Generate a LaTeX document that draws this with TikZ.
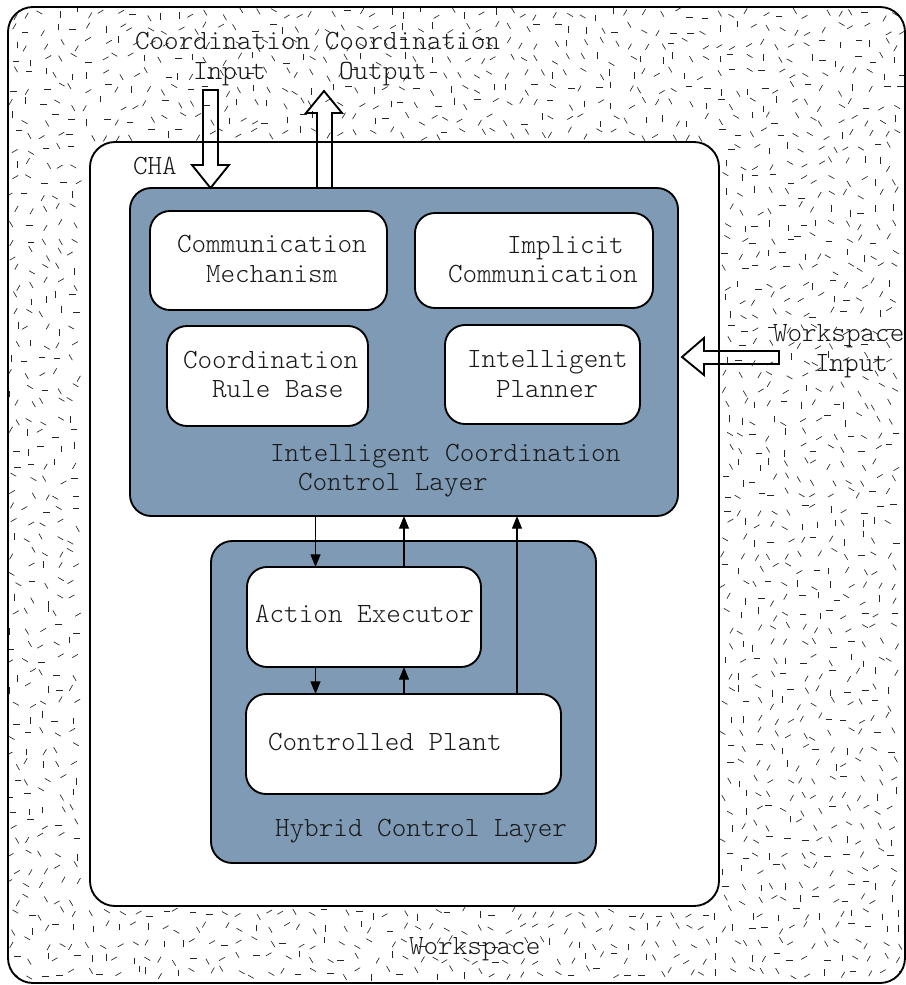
\documentclass[tikz,border=0pt]{standalone}
\usepackage{fontspec}
\setmonofont{Latin Modern Mono Light}
\usetikzlibrary{arrows.meta,fit}
\definecolor{layerblue}{RGB}{126,154,180}

% one short random stroke of the workspace texture, near grid point (\gx,\gy)
\newcommand\dropspeck{%
  \pgfmathsetmacro\sx{\gx+5*rand}%
  \pgfmathsetmacro\sy{\gy+5*rand}%
  \pgfmathsetmacro\sa{30*random(0,5)}%
  \draw[speck] (\sx,\sy) ++(\sa:3.3) -- ++(\sa+180:6.6);}

\begin{document}
\begin{tikzpicture}[x=0.75pt,y=-0.75pt,
  every node/.style={font=\ttfamily\fontsize{20.86}{24}\selectfont},
  frame/.style={draw=black, line width=1.4pt, inner sep=0pt, outer sep=0pt},
  whitebox/.style={frame, fill=white, rounded corners=15pt},
  layer/.style={frame, fill=layerblue, rounded corners=16pt},
  lbl/.style={inner sep=0pt, outer sep=0pt, anchor=west, text height=0.75em, text depth=0.15em, text=black!90},
  speck/.style={line width=0.5pt, black!85},
  conn/.style={line width=0.9pt, -{Triangle[length=9.5pt,width=7.5pt]}},
  hollow/.style={line width=1.4pt, line join=miter}]
\useasboundingbox (0,0) rectangle (906,985);

% workspace texture
\pgfmathsetseed{4242}
\begin{scope}
  \clip[rounded corners=18.75pt] (8,7) rectangle (905,983);
  \foreach \gx in {14,29,...,900} \foreach \gy in {14,29,...,134} {\dropspeck}
  \foreach \gx in {14,29,...,900} \foreach \gy in {913,928,...,980} {\dropspeck}
  \foreach \gx in {14,29,...,80} \foreach \gy in {149,164,...,900} {\dropspeck}
  \foreach \gx in {727,742,...,900} \foreach \gy in {149,164,...,900} {\dropspeck}
\end{scope}

% workspace and agent frames
\node[frame, rounded corners=18.75pt, fit={(8,7) (905,983)}] (ws) {};
\node[whitebox, rounded corners=18.75pt, fit={(90,142) (719,906)}] (cha) {};

% intelligent coordination control layer
\node[layer, fit={(130,188) (678,516)}] (iccl) {};
\node[whitebox, fit={(150,211) (387,310)}] (comm) {};
\node[whitebox, fit={(415,213) (653,308)}] (impl) {};
\node[whitebox, fit={(167,326) (368,426)}] (rules) {};
\node[whitebox, fit={(445,325) (640,424)}] (plan) {};

% hybrid control layer
\node[layer, fit={(211,541) (596,863)}] (hcl) {};
\node[whitebox, fit={(247,567) (481,667)}] (ae) {};
\node[whitebox, fit={(246,694) (561,794)}] (cp) {};

% labels
\node[lbl] (tcoord) at (135,45) {Coordination Coordination};
\node[lbl] (tcin) at (193,75) {Input};
\node[lbl] (tcout) at (339,75) {Output};
\node[lbl] (tcha) at (133,170) {CHA};
\node[lbl] (tcomm1) at (177,248) {Communication};
\node[lbl] (tcomm2) at (206,278) {Mechanism};
\node[lbl] (timpl1) at (507,249) {Implicit};
\node[lbl] (timpl2) at (448,278) {Communication};
\node[lbl] (trule1) at (183,364) {Coordination};
\node[lbl] (trule2) at (212,393) {Rule Base};
\node[lbl] (tplan1) at (467,363) {Intelligent};
\node[lbl] (tplan2) at (496,393) {Planner};
\node[lbl] (ticcl1) at (270,457) {Intelligent Coordination};
\node[lbl] (ticcl2) at (298,486) {Control Layer};
\node[lbl] (tae) at (255,618) {Action Executor};
\node[lbl] (tcp) at (268,746) {Controlled Plant};
\node[lbl] (thcl) at (275,832) {Hybrid Control Layer};
\node[lbl] (twsin1) at (773,337) {Workspace};
\node[lbl] (twsin2) at (815,367) {Input};
\node[lbl] (tws) at (409,950) {Workspace};

% hollow block arrows
\draw[hollow] (203,90) -- (218,90) -- (218,165) -- (229,165) -- (210.5,188)
  -- (192,165) -- (203,165) -- cycle;
\draw[hollow] (317,188) -- (317,113) -- (306,113) -- (324,91) -- (342,113)
  -- (332,113) -- (332,188);
\draw[hollow] (779,351) -- (704,351) -- (704,338) -- (682,357) -- (704,375)
  -- (704,364) -- (779,364) -- cycle;

% signal connectors between layers and blocks
\coordinate (xa) at (315.5,0);
\coordinate (xb) at (404,0);
\coordinate (xc) at (517,0);
\draw[conn] (xa |- iccl.south) -- (xa |- ae.north);
\draw[conn] (xb |- ae.north) -- (xb |- iccl.south);
\draw[conn] (xc |- cp.north) -- (xc |- iccl.south);
\draw[conn] (xa |- ae.south) -- (xa |- cp.north);
\draw[conn] (xb |- cp.north) -- (xb |- ae.south);
\end{tikzpicture}
\end{document}
